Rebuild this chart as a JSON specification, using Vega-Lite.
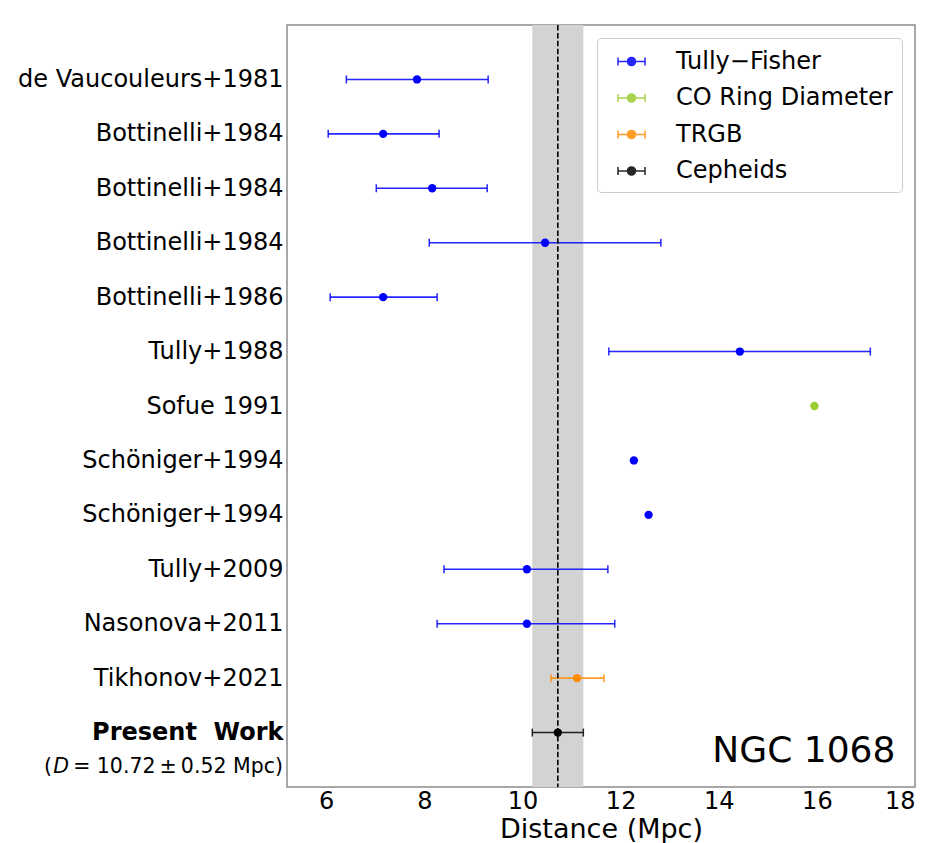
{
  "$schema": "https://vega.github.io/schema/vega-lite/v6.json",
  "autosize": {"type": "none"},
  "padding": {"left": 287, "top": 25, "right": 20, "bottom": 56},
  "width": 628,
  "height": 762,
  "background": "white",
  "config": {
    "font": "DejaVu Sans",
    "view": {"stroke": "#8c8c8c", "strokeWidth": 1.5, "fill": "white"},
    "axis": {"grid": false, "ticks": false, "domain": false, "labelColor": "black", "titleColor": "black", "labelFont": "DejaVu Sans", "titleFont": "DejaVu Sans"}
  },
  "data": {
    "values": [
      {"row": 1, "method": "Tully−Fisher", "d": 7.85, "lo": 6.41, "hi": 9.30},
      {"row": 2, "method": "Tully−Fisher", "d": 7.16, "lo": 6.04, "hi": 8.30},
      {"row": 3, "method": "Tully−Fisher", "d": 8.16, "lo": 7.02, "hi": 9.28},
      {"row": 4, "method": "Tully−Fisher", "d": 10.46, "lo": 8.10, "hi": 12.82},
      {"row": 5, "method": "Tully−Fisher", "d": 7.16, "lo": 6.08, "hi": 8.26},
      {"row": 6, "method": "Tully−Fisher", "d": 14.43, "lo": 11.76, "hi": 17.09},
      {"row": 7, "method": "CO Ring Diameter", "d": 15.95, "lo": null, "hi": null},
      {"row": 8, "method": "Tully−Fisher", "d": 12.27, "lo": null, "hi": null},
      {"row": 9, "method": "Tully−Fisher", "d": 12.57, "lo": null, "hi": null},
      {"row": 10, "method": "Tully−Fisher", "d": 10.09, "lo": 8.40, "hi": 11.74},
      {"row": 11, "method": "Tully−Fisher", "d": 10.09, "lo": 8.26, "hi": 11.88},
      {"row": 12, "method": "TRGB", "d": 11.11, "lo": 10.58, "hi": 11.66},
      {"row": 13, "method": "Cepheids", "d": 10.72, "lo": 10.20, "hi": 11.24}
    ]
  },
  "layer": [
    {
      "data": {"values": [{}]},
      "mark": {"type": "rect", "color": "#d3d3d3"},
      "encoding": {
        "x": {"datum": 10.2, "type": "quantitative", "scale": {"domain": [5.2, 18], "nice": false, "zero": false},
          "axis": {"values": [6, 8, 10, 12, 14, 16, 18], "labelFontSize": 24, "labelPadding": 2, "title": "Distance (Mpc)", "titleFontSize": 27, "titleFontWeight": "normal", "titlePadding": 3}},
        "x2": {"datum": 11.24}
      }
    },
    {
      "transform": [{"filter": "isValid(datum.lo)"}],
      "mark": {"type": "rule", "strokeWidth": 1.6, "opacity": 0.85},
      "encoding": {
        "x": {"field": "lo", "type": "quantitative"},
        "x2": {"field": "hi"},
        "y": {"field": "row", "type": "ordinal", "scale": {"type": "point", "padding": 1},
          "axis": {"title": null, "labelFontSize": 24, "labelPadding": 4, "labelLimit": 400,
            "labelExpr": "['','de Vaucouleurs+1981','Bottinelli+1984','Bottinelli+1984','Bottinelli+1984','Bottinelli+1986','Tully+1988','Sofue 1991','Schöniger+1994','Schöniger+1994','Tully+2009','Nasonova+2011','Tikhonov+2021','Present\u00a0\u00a0Work'][datum.value]",
            "labelFontWeight": {"condition": {"test": "datum.value == 13", "value": "bold"}, "value": "normal"}}},
        "color": {"field": "method", "type": "nominal",
          "scale": {"domain": ["Tully−Fisher", "CO Ring Diameter", "TRGB", "Cepheids"], "range": ["#0000ff", "#9acd32", "#ff8c00", "#000000"]},
          "legend": {"title": null, "orient": "top-right", "offset": 13,
            "symbolType": "M-1,0H1M-1,-0.3V0.3M1,-0.3V0.3M-0.3,0A0.3,0.3,0,1,1,0.3,0A0.3,0.3,0,1,1,-0.3,0Z",
            "symbolSize": 729, "symbolStrokeWidth": 1.5,
            "labelFontSize": 24, "labelFont": "DejaVu Sans", "labelColor": "black", "labelLimit": 400,
            "labelOffset": 30, "symbolOffset": 11, "padding": 9, "rowPadding": 9.5,
            "strokeColor": "#cccccc", "fillColor": "white", "cornerRadius": 4,
            "encode": {"symbols": {"update": {
              "stroke": {"scale": "color", "field": "value"},
              "fill": {"scale": "color", "field": "value"},
              "strokeWidth": {"value": 1.5},
              "opacity": {"value": 1}}}}}}
      }
    },
    {
      "data": {"values": [{}]},
      "mark": {"type": "rule", "color": "black", "strokeWidth": 1.6, "strokeDash": [5.5, 2.4]},
      "encoding": {"x": {"datum": 10.72, "type": "quantitative"}}
    },
    {
      "transform": [{"filter": "isValid(datum.lo)"}],
      "mark": {"type": "tick", "size": 8, "thickness": 1.5, "opacity": 0.85},
      "encoding": {
        "x": {"field": "lo", "type": "quantitative"},
        "y": {"field": "row", "type": "ordinal", "scale": {"type": "point", "padding": 1}},
        "color": {"field": "method", "type": "nominal"}
      }
    },
    {
      "transform": [{"filter": "isValid(datum.hi)"}],
      "mark": {"type": "tick", "size": 8, "thickness": 1.5, "opacity": 0.85},
      "encoding": {
        "x": {"field": "hi", "type": "quantitative"},
        "y": {"field": "row", "type": "ordinal", "scale": {"type": "point", "padding": 1}},
        "color": {"field": "method", "type": "nominal"}
      }
    },
    {
      "mark": {"type": "point", "filled": true, "size": 70, "opacity": 1, "shape": "circle"},
      "encoding": {
        "x": {"field": "d", "type": "quantitative"},
        "y": {"field": "row", "type": "ordinal", "scale": {"type": "point", "padding": 1}},
        "color": {"field": "method", "type": "nominal"}
      }
    },
    {
      "data": {"values": [{}]},
      "mark": {"type": "text", "text": "NGC 1068", "fontSize": 36, "align": "right", "baseline": "alphabetic", "dy": 29, "color": "black"},
      "encoding": {"x": {"datum": 17.6, "type": "quantitative"}, "y": {"datum": 13, "type": "ordinal"}}
    },
    {
      "data": {"values": [{}]},
      "mark": {"type": "text", "text": "= 10.72\u2009±\u20090.52 Mpc)", "fontSize": 20.5, "align": "right", "baseline": "middle", "dx": -4, "dy": 34, "color": "black"},
      "encoding": {"x": {"datum": 5.2, "type": "quantitative"}, "y": {"datum": 13, "type": "ordinal"}}
    },
    {
      "data": {"values": [{}]},
      "mark": {"type": "text", "text": "D", "fontSize": 20.5, "fontStyle": "italic", "align": "right", "baseline": "middle", "dx": -218, "dy": 34, "color": "black"},
      "encoding": {"x": {"datum": 5.2, "type": "quantitative"}, "y": {"datum": 13, "type": "ordinal"}}
    },
    {
      "data": {"values": [{}]},
      "mark": {"type": "text", "text": "(", "fontSize": 20.5, "align": "right", "baseline": "middle", "dx": -235, "dy": 34, "color": "black"},
      "encoding": {"x": {"datum": 5.2, "type": "quantitative"}, "y": {"datum": 13, "type": "ordinal"}}
    }
  ]
}
